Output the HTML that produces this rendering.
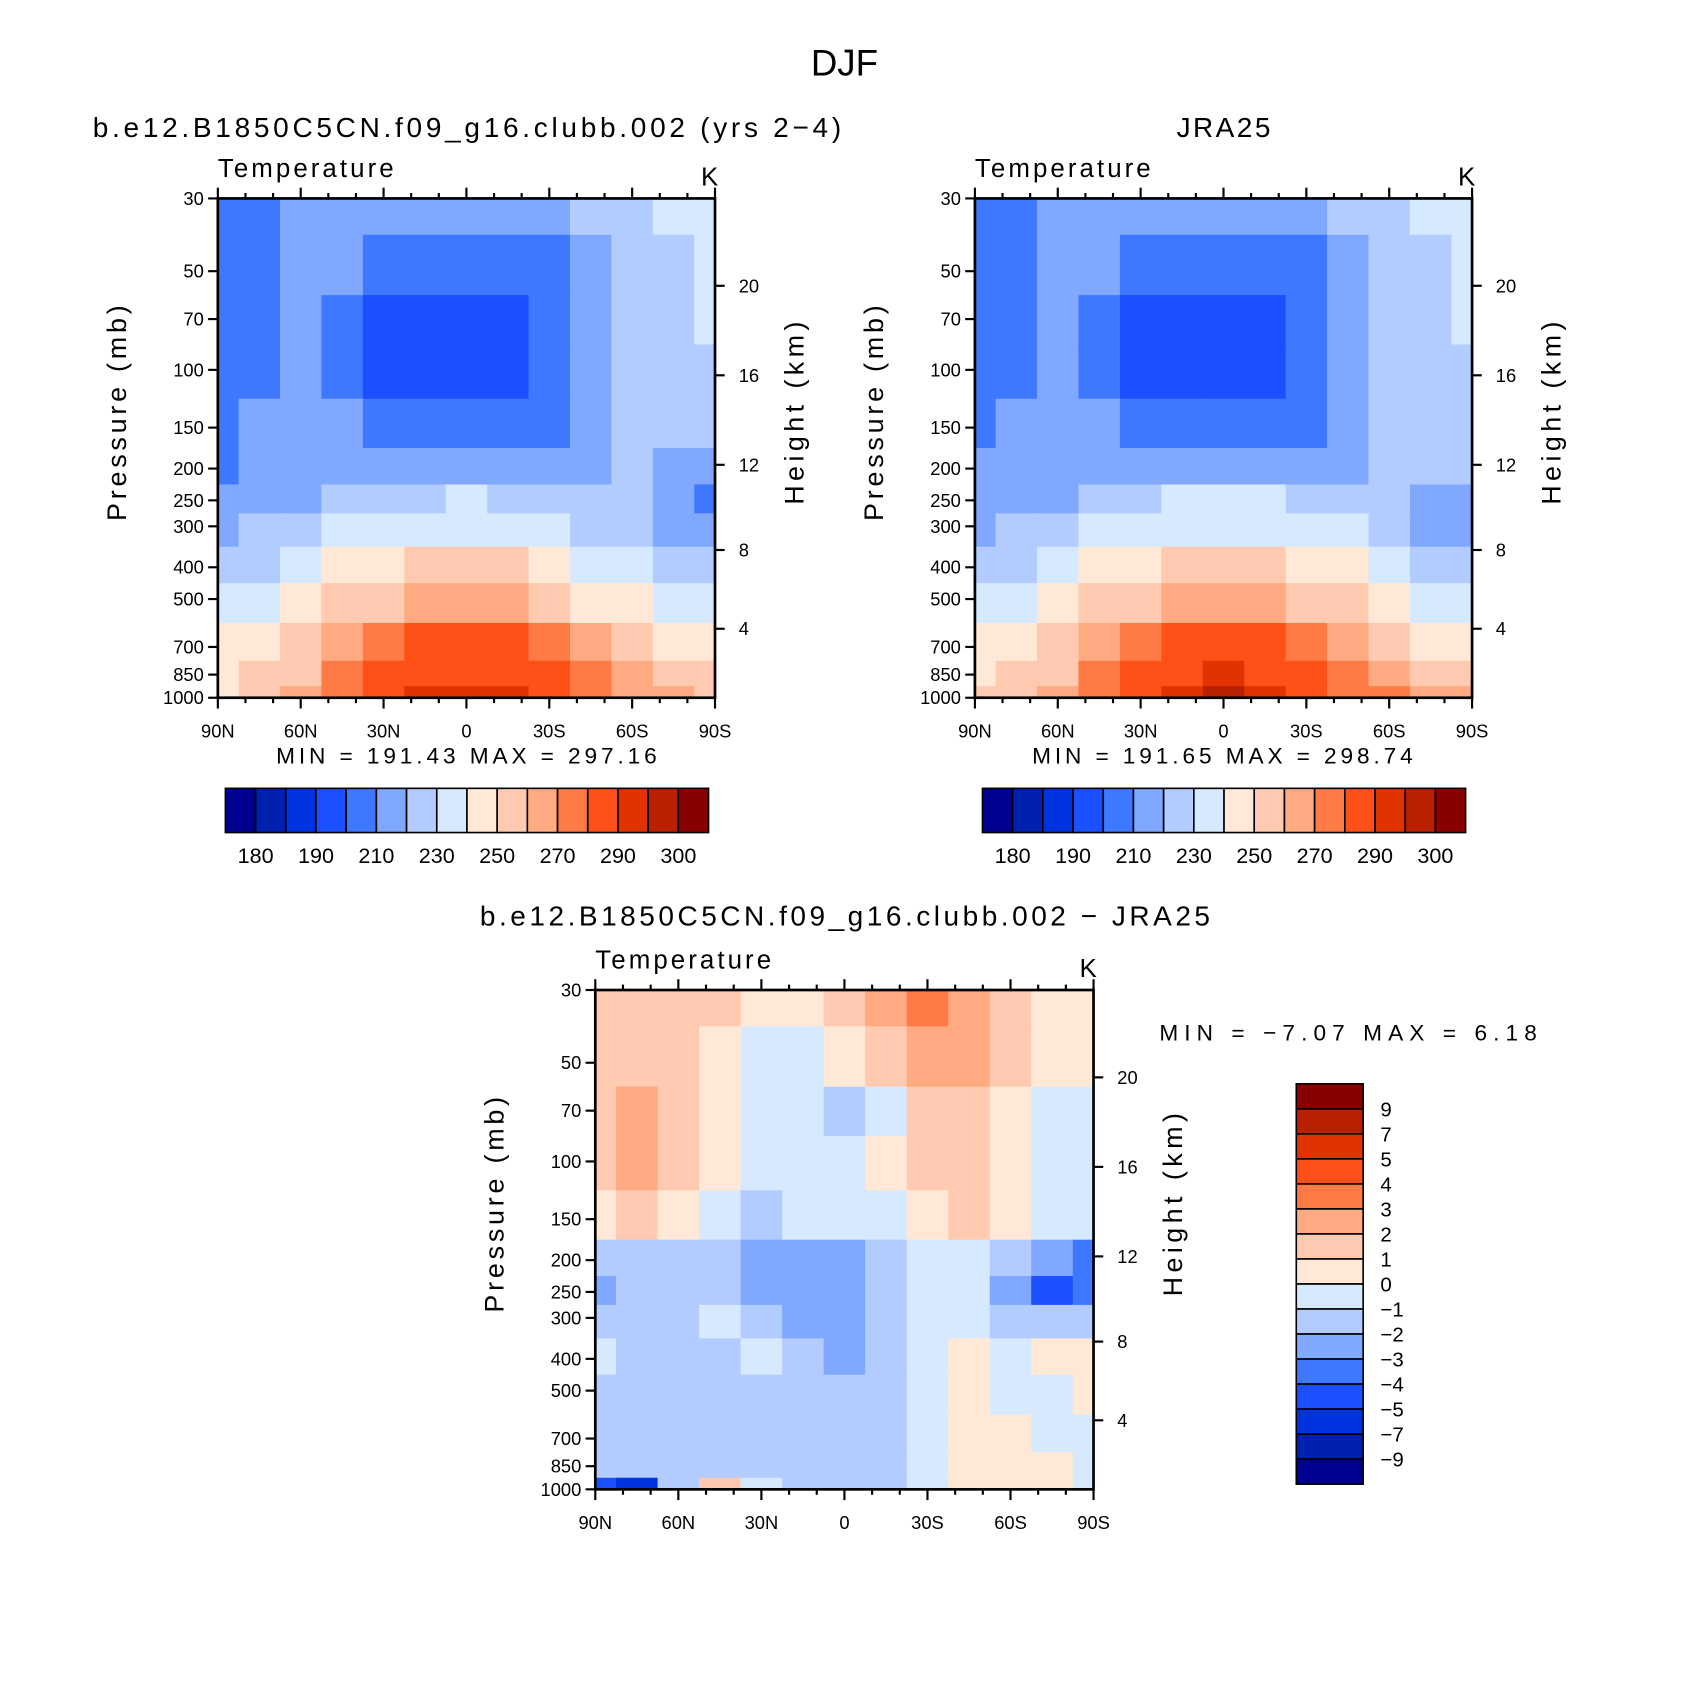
<!DOCTYPE html>
<html><head><meta charset="utf-8"><style>
html,body{margin:0;padding:0;background:#fff}
svg{display:block}
text{font-family:"Liberation Sans",sans-serif;fill:#000}
</style></head><body>
<svg id="fig" width="1691" height="1691" viewBox="0 0 1568 1568" xmlns="http://www.w3.org/2000/svg">
<text x="783" y="70" font-size="34" text-anchor="middle">DJF</text>
</svg>
<script>
const lats=[90,75,60,45,30,15,0,-15,-30,-45,-60,-75,-90];
const levels=[30,50,70,100,150,200,250,300,400,500,700,850,1000];
const pTicks=[30,50,70,100,150,200,250,300,400,500,700,850,1000];
const hTicks=['4','8','12','16','20'];
const hOffsets=[399,326,247,164,81];
const xTickLabels=['90N','60N','30N','0','30S','60S','90S'];
const tBounds=[180,185,190,200,210,220,230,240,250,260,270,280,290,295,300];
const tLabels=['180','190','210','230','250','270','290','300'];
const dBounds=[-9,-7,-5,-4,-3,-2,-1,0,1,2,3,4,5,7,9];
const dLabels=['9','7','5','4','3','2','1','0','\u22121','\u22122','\u22123','\u22124','\u22125','\u22127','\u22129'];
const palette=['#000090','#0020b0','#0033e0','#1a50ff','#3d78ff','#80a8ff','#b3ccff','#d6e9ff','#ffe9d6','#ffcab0','#ffaa80','#ff7a45','#ff5018','#e03300','#b82000','#8a0000'];
const modelT=[
[205,207,215,215,215,215,215,215,215,221,225,231,233],
[205,207,214,213,205,204,204,205,207,218,224,226,232],
[206,208,214,208,199,196,196,197,205,215,222,225,232],
[207,209,214,206,197,194,194,196,204,214,220,226,227],
[204,210,215,210,205,201,201,203,207,215,220,224,224],
[208,214,216,214,212,212,212,212,213,218,220,219,212],
[210,214,217,222,226,229,231,229,225,222,220,214,209],
[218,220,225,230,234,237,238,237,234,229,224,218,214],
[224,228,233,240,246,250,252,250,245,239,233,227,224],
[232,235,240,250,257,261,263,261,256,249,241,235,232],
[243,246,252,265,272,280,282,280,272,263,255,248,245],
[246,250,258,272,281,287,288,287,281,270,262,256,252],
[249,252,262,276,283,290,292,291,285,276,268,262,258]];
const obsT=[
[205,207,215,215,215,215,215,215,215,221,225,231,233],
[205,207,214,213,205,203,203,205,207,218,224,226,232],
[206,208,214,207,199,196,196,197,205,215,222,225,232],
[207,209,214,206,197,194,194,196,204,214,220,224,227],
[205,210,215,210,205,201,201,203,207,215,220,224,224],
[210,215,216,215,213,213,213,213,214,219,222,222,221],
[211,215,218,223,227,230,232,230,226,223,221,217,214],
[219,221,226,231,235,238,239,238,235,230,225,219,215],
[225,229,234,241,247,251,253,251,246,240,234,228,225],
[233,236,241,251,258,262,264,262,257,250,242,236,233],
[244,247,253,266,273,281,283,281,273,264,256,249,246],
[247,251,259,273,282,288,290,288,282,271,263,257,253],
[250,253,263,277,285,292,296,293,287,278,270,264,260]];
const diffT=[
[1.5,1.5,1.5,1.2,0.5,0.5,1.5,2.5,3.5,2.5,1.5,0.5,0.5],
[1.5,1.5,1.5,0.5,-0.5,-0.5,0.5,1.5,2.5,2.2,1.5,0.5,0.5],
[1.5,2.5,1.5,0.5,-0.5,-0.5,-1.5,-0.5,1.5,1.5,0.5,-0.5,-0.5],
[1.5,2.5,1.5,0.5,-0.5,-0.5,-0.5,0.5,1.5,1.5,0.5,-0.5,-0.5],
[0.5,1.5,0.5,-0.5,-1.5,-0.5,-0.5,-0.5,0.5,1.5,0.5,-0.5,-0.5],
[-1.5,-1.5,-1.5,-1.5,-2.5,-2.5,-2.5,-1.5,-0.5,-0.5,-1.5,-2.5,-3.5],
[-2.5,-1.5,-1.5,-1.5,-2.5,-2.5,-2.5,-1.5,-0.5,-0.5,-2.5,-4.5,-3.5],
[-1.5,-1.5,-1.5,-0.5,-1.5,-2.5,-2.5,-1.5,-0.5,-0.5,-1.5,-1.5,-1.5],
[-0.5,-1.5,-1.5,-1.5,-0.5,-1.5,-2.5,-1.5,-0.5,0.5,-0.5,0.5,0.5],
[-1.5,-1.5,-1.5,-1.5,-1.5,-1.5,-1.5,-1.5,-0.5,0.5,-0.5,-0.5,0.5],
[-1.5,-1.5,-1.5,-1.5,-1.5,-1.5,-1.5,-1.5,-0.5,0.5,0.5,-0.5,-0.5],
[-1.5,-1.5,-1.5,-1.5,-1.5,-1.5,-1.5,-1.5,-0.5,0.5,0.5,0.5,-0.5],
[-4.5,-5.5,-1.5,1.5,-0.5,-1.5,-1.5,-1.5,-0.5,0.5,0.5,0.5,-0.5]];

const NS='http://www.w3.org/2000/svg';
const svg=document.getElementById('fig');
function mk(tag,attrs,parent,txt){const e=document.createElementNS(NS,tag);for(const k in attrs)e.setAttribute(k,attrs[k]);if(txt!==undefined)e.textContent=txt;(parent||svg).appendChild(e);return e;}
function colorFor(v,b){let i=0;while(i<b.length&&v>=b[i])i++;return palette[i];}

function panel(x0,y0,w,h,grid,bounds,name){
  const g=mk('g',{},svg);
  
  
  const xS=lat=>x0+(90-lat)/180*w;
  const yS=p=>y0+Math.log(p/30)/Math.log(1000/30)*h;
  for(let j=0;j<levels.length;j++){
    const yt=j===0?y0:yS(Math.sqrt(levels[j]*levels[j-1]));
    const yb=j===levels.length-1?y0+h:yS(Math.sqrt(levels[j]*levels[j+1]));
    for(let i=0;i<lats.length;i++){
      const xl=i===0?x0:xS((lats[i]+lats[i-1])/2);
      const xr=i===lats.length-1?x0+w:xS((lats[i]+lats[i+1])/2);
      const c=mk('rect',{x:xl,y:yt,width:xr-xl+0.6,height:yb-yt+0.6,fill:colorFor(grid[j][i],bounds)},g);
      
      
    }
  }
  mk('rect',{x:x0,y:y0,width:w,height:h,fill:'none',stroke:'#000','stroke-width':2.5},g);
  pTicks.forEach(p=>{const y=yS(p);
    mk('line',{x1:x0-9,x2:x0,y1:y,y2:y,stroke:'#000','stroke-width':2},g);
    const t=mk('text',{x:x0-13,y:y+6,'font-size':17,'text-anchor':'end'},g,String(p));
    });
  hOffsets.forEach((o,k)=>{const y=y0+o;
    mk('line',{x1:x0+w,x2:x0+w+9,y1:y,y2:y,stroke:'#000','stroke-width':2},g);
    const t=mk('text',{x:x0+w+22,y:y+6,'font-size':17},g,hTicks[k]);
    });
  for(let lat=90;lat>=-90;lat-=10){const x=xS(lat);const major=lat%30===0;const L=major?10:5;
    mk('line',{x1:x,x2:x,y1:y0+h,y2:y0+h+L,stroke:'#000','stroke-width':2},g);
    mk('line',{x1:x,x2:x,y1:y0,y2:y0-L,stroke:'#000','stroke-width':2},g);}
  xTickLabels.forEach((l,k)=>{const t=mk('text',{x:x0+k*w/6,y:y0+h+37,'font-size':17,'text-anchor':'middle'},g,l);
    });
  const a=mk('text',{x:0,y:0,'font-size':25,'text-anchor':'middle',textLength:200,lengthAdjust:'spacing',transform:`translate(${x0-85},${y0+h*0.43}) rotate(-90)`},g,'Pressure (mb)');
  
  const b=mk('text',{x:0,y:0,'font-size':25,'text-anchor':'middle',textLength:170,lengthAdjust:'spacing',transform:`translate(${x0+w+82},${y0+h*0.43}) rotate(-90)`},g,'Height (km)');
  
  const c=mk('text',{x:x0,y:y0-20,'font-size':24,textLength:163,lengthAdjust:'spacing'},g,'Temperature');
  
  const d=mk('text',{x:x0+w-5,y:y0-12,'font-size':24,'text-anchor':'middle'},g,'K');
  
}
function hbar(x0,y0,bw,bh,name){
  const g=mk('g',{},svg);
  palette.forEach((c,i)=>{const r=mk('rect',{x:x0+i*bw,y:y0,width:bw,height:bh,fill:c,stroke:'#000','stroke-width':1.5},g);
    });
  tLabels.forEach((l,k)=>{const t=mk('text',{x:x0+(1+2*k)*bw,y:y0+bh+28,'font-size':20,'text-anchor':'middle'},g,l);
    });
}
function vbar(x0,y0,bw,bh,name){
  const g=mk('g',{},svg);
  palette.slice().reverse().forEach((c,i)=>{const r=mk('rect',{x:x0,y:y0+i*bh,width:bw,height:bh,fill:c,stroke:'#000','stroke-width':1.5},g);
    });
  dLabels.forEach((l,k)=>{const t=mk('text',{x:x0+bw+16,y:y0+(k+1)*bh+7,'font-size':19},g,l);
    });
}
function txt(x,y,s,size,len,name){const t=mk('text',{x:x,y:y,'font-size':size,textLength:len,lengthAdjust:'spacing'},svg,s);
  }

txt(86,127,'b.e12.B1850C5CN.f09_g16.clubb.002 (yrs 2\u22124)',26,694,'model-title');
txt(1091,127,'JRA25',26,87,'obs-title');
panel(202,184,461,463,modelT,tBounds,'model-panel');
panel(904,184,461,463,obsT,tBounds,'obs-panel');
txt(256,708,'MIN = 191.43   MAX = 297.16',21,353,'model-minmax');
txt(957,708,'MIN = 191.65   MAX = 298.74',21,353,'obs-minmax');
hbar(209,731,28,41,'model-colorbar');
hbar(911,731,28,41,'obs-colorbar');
txt(445,858,'b.e12.B1850C5CN.f09_g16.clubb.002 \u2212 JRA25',26,677,'diff-title');
panel(552,918,462,463,diffT,dBounds,'diff-panel');
txt(1075,965,'MIN =   \u22127.07   MAX =    6.18',21,350,'diff-minmax');
vbar(1202,1005,62,23.2,'diff-colorbar');
</script>
</body></html>
